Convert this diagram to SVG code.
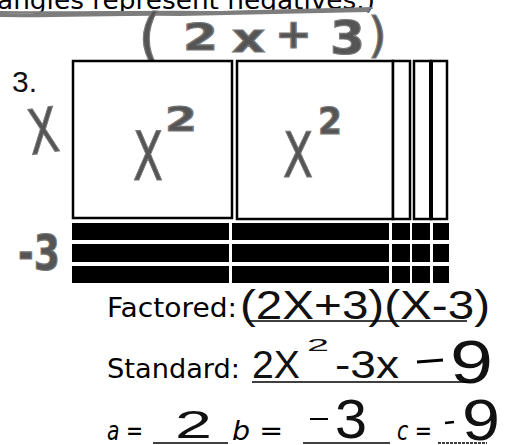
<svg xmlns="http://www.w3.org/2000/svg" width="507" height="445" viewBox="0 0 507 445">
<style>
.print{font-family:"DejaVu Sans","Noto Sans",sans-serif;fill:#000}
.hand{font-family:"Liberation Sans",Arial,sans-serif;fill:#111}
.marker{font-family:"DejaVu Sans",sans-serif;fill:#555;stroke:#7a7a7a;stroke-width:1.2}
.bold{font-weight:bold}
.tile{fill:#fff;stroke:#000;stroke-width:2.5}
.neg{fill:#000}
.ul{stroke:#000;stroke-width:1.6;fill:none}
.scrib{fill:none;stroke:#7d7d7d;stroke-linecap:round}
</style>
<rect width="507" height="445" fill="#fff"/>

<g id="header">
<text class="print" x="-3" y="9" font-size="24" textLength="378" lengthAdjust="spacingAndGlyphs">angles represent negatives.)</text>
</g>

<g id="scribble">
<path class="scrib" stroke-width="4" d="M0 15 C60 16 120 13 180 14 C240 13 300 11 368 10"/>
<path class="scrib" stroke-width="2" d="M0 12 C70 13 150 11 220 12 C280 10 330 9 372 8"/>
<text class="marker" x="138" y="58" font-size="62">(</text>
<path class="scrib" stroke-width="3.5" d="M150 62 C160 70 178 72 190 66"/>
<text class="marker" x="368" y="52" font-size="48">)</text>
<text class="marker bold" x="183" y="50" font-size="38" textLength="35" lengthAdjust="spacingAndGlyphs">2</text>
<text class="marker bold" x="232" y="52" font-size="40" textLength="33" lengthAdjust="spacingAndGlyphs">x</text>
<text class="marker bold" x="275" y="48" font-size="40" textLength="37" lengthAdjust="spacingAndGlyphs">+</text>
<text class="marker bold" x="330" y="54" font-size="46" textLength="35" lengthAdjust="spacingAndGlyphs">3</text>
</g>

<g id="label-3">
<text class="hand" x="12" y="92" font-size="30">3.</text>
</g>
<g id="label-x">
<text class="marker" x="28" y="153" font-size="62" textLength="30" lengthAdjust="spacingAndGlyphs" transform="rotate(-8 43 130)">X</text>
</g>
<g id="label-neg3">
<text class="marker bold" x="18" y="270" font-size="50" textLength="42" lengthAdjust="spacingAndGlyphs">-3</text>
</g>

<g id="tile-x2-1">
<rect class="tile" x="73" y="61" width="159" height="157"/>
<text class="marker" x="133" y="180" font-size="68" textLength="30" lengthAdjust="spacingAndGlyphs">X</text>
<text class="marker bold" x="165" y="131" font-size="34" textLength="32" lengthAdjust="spacingAndGlyphs">2</text>
</g>
<g id="tile-x2-2">
<rect class="tile" x="237" y="61" width="156" height="158"/>
<text class="marker" x="283" y="177" font-size="62" textLength="30" lengthAdjust="spacingAndGlyphs">X</text>
<text class="marker bold" x="318" y="134" font-size="38" textLength="24" lengthAdjust="spacingAndGlyphs">2</text>
</g>
<g id="tile-x-1"><rect class="tile" x="393" y="61" width="17" height="158"/></g>
<g id="tile-x-2"><rect class="tile" x="414" y="61" width="17" height="158"/></g>
<g id="tile-x-3"><rect class="tile" x="431" y="61" width="16" height="158"/><rect x="429" y="61" width="4" height="158" fill="#000"/></g>

<g id="neg-x-tiles">
<rect class="neg" x="72" y="223" width="157" height="17"/>
<rect class="neg" x="72" y="244" width="157" height="18"/>
<rect class="neg" x="72" y="266" width="157" height="17"/>
<rect class="neg" x="232" y="223" width="157" height="17"/>
<rect class="neg" x="232" y="244" width="157" height="18"/>
<rect class="neg" x="232" y="266" width="157" height="17"/>
</g>
<g id="neg-unit-tiles">
<rect class="neg" x="392" y="223" width="18" height="17"/>
<rect class="neg" x="412" y="223" width="18" height="17"/>
<rect class="neg" x="433" y="223" width="16" height="17"/>
<rect class="neg" x="392" y="244" width="18" height="18"/>
<rect class="neg" x="412" y="244" width="18" height="18"/>
<rect class="neg" x="433" y="244" width="16" height="18"/>
<rect class="neg" x="392" y="266" width="18" height="17"/>
<rect class="neg" x="412" y="266" width="18" height="17"/>
<rect class="neg" x="433" y="266" width="16" height="17"/>
</g>

<g id="factored">
<text class="print" x="107" y="317" font-size="26" textLength="130" lengthAdjust="spacingAndGlyphs">Factored:</text>
<text class="hand" x="240" y="319" font-size="40" textLength="250" lengthAdjust="spacingAndGlyphs">(2X+3)(X-3)</text>
<line class="ul" x1="247" y1="321" x2="467" y2="321"/>
</g>

<g id="standard">
<text class="print" x="107" y="378" font-size="26" textLength="133" lengthAdjust="spacingAndGlyphs">Standard:</text>
<text class="hand" x="252" y="378" font-size="38" textLength="48" lengthAdjust="spacingAndGlyphs">2X</text>
<text class="hand" x="307" y="351" font-size="17" textLength="22" lengthAdjust="spacingAndGlyphs">2</text>
<text class="hand" x="335" y="378" font-size="38" textLength="64" lengthAdjust="spacingAndGlyphs">-3x</text>
<line x1="417" y1="362" x2="443" y2="360" stroke="#000" stroke-width="3"/>
<text class="hand" x="450" y="383" font-size="62" textLength="43" lengthAdjust="spacingAndGlyphs">9</text>
<line class="ul" x1="252" y1="382" x2="470" y2="382"/>
</g>

<g id="coefficients">
<text class="print" x="107" y="440" font-size="26" font-style="italic" textLength="36" lengthAdjust="spacingAndGlyphs">a =</text>
<text class="hand" x="175" y="438" font-size="38" textLength="37" lengthAdjust="spacingAndGlyphs">2</text>
<line class="ul" x1="153" y1="443" x2="228" y2="443"/>
<text class="print" x="232" y="440" font-size="26" font-style="italic" textLength="51" lengthAdjust="spacingAndGlyphs">b =</text>
<line x1="310" y1="419" x2="328" y2="419" stroke="#000" stroke-width="2"/>
<text class="hand" x="335" y="438" font-size="56" textLength="32" lengthAdjust="spacingAndGlyphs">3</text>
<line class="ul" x1="303" y1="443" x2="390" y2="443"/>
<text class="print" x="397" y="440" font-size="26" font-style="italic" textLength="35" lengthAdjust="spacingAndGlyphs">c =</text>
<line x1="445" y1="423" x2="454" y2="422" stroke="#000" stroke-width="2.5"/>
<text class="hand" x="462" y="440" font-size="58" textLength="38" lengthAdjust="spacingAndGlyphs">9</text>
<line class="ul" x1="438" y1="443" x2="487" y2="443" stroke-dasharray="3 1"/>
</g>
</svg>
